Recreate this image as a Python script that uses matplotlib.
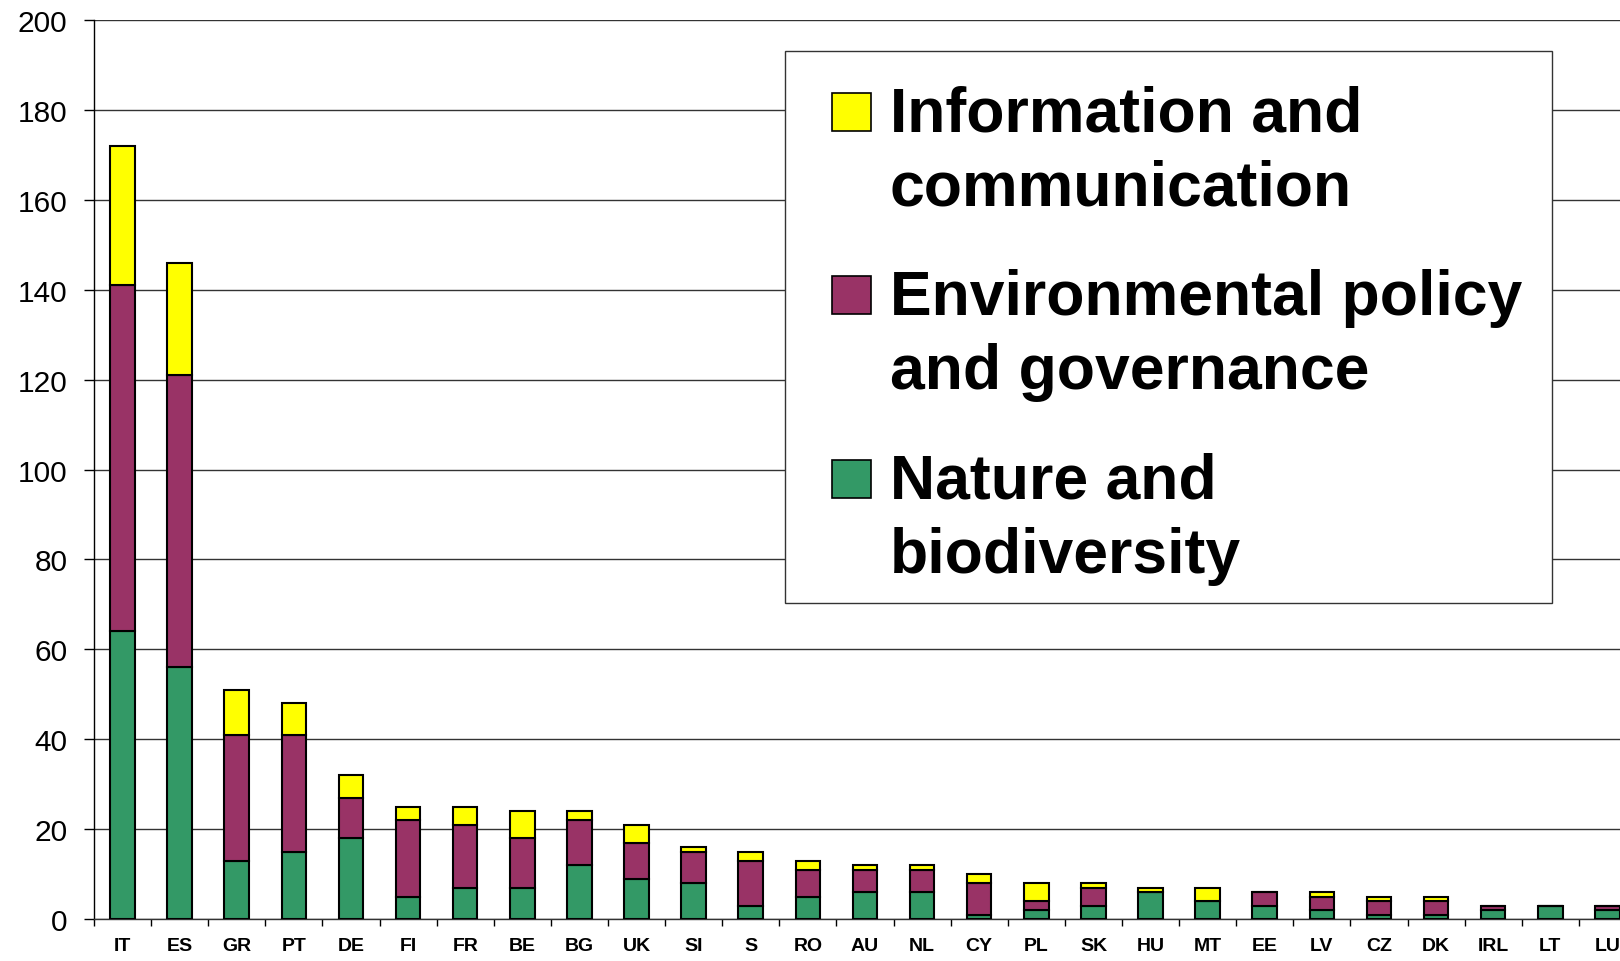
#!/usr/bin/env python3
# -*- coding: utf-8 -*-
# plot.py - barras apiladas por pais

import numpy as np
from matplotlib import pyplot as plt
from matplotlib.patches import Rectangle

# datos
countries = ['IT', 'ES', 'GR', 'PT', 'DE', 'FI', 'FR', 'BE', 'BG', 'UK',
             'SI', 'S', 'RO', 'AU', 'NL', 'CY', 'PL', 'SK', 'HU', 'MT',
             'EE', 'LV', 'CZ', 'DK', 'IRL', 'LT', 'LU']
nature = [64, 56, 13, 15, 18, 5, 7, 7, 12, 9, 8, 3, 5, 6, 6, 1, 2, 3, 6, 4,
          3, 2, 1, 1, 2, 3, 2]
policy = [77, 65, 28, 26, 9, 17, 14, 11, 10, 8, 7, 10, 6, 5, 5, 7, 2, 4, 0, 0,
          3, 3, 3, 3, 1, 0, 1]
info = [31, 25, 10, 7, 5, 3, 4, 6, 2, 4, 1, 2, 2, 1, 1, 2, 4, 1, 1, 3,
        0, 1, 1, 1, 0, 0, 0]
series_labels = [
  ['Information and', 'communication'],
  ['Environmental policy', 'and governance'],
  ['Nature and', 'biodiversity'],
]
y_ticks = [0, 20, 40, 60, 80, 100, 120, 140, 160, 180, 200]

c_nat = '#339966'
c_pol = '#993366'
c_inf = '#FFFF00'

W, H = 1620, 962
plt.rcParams['font.family'] = ['Liberation Sans', 'DejaVu Sans']

fig = plt.figure(figsize=(W / 100, H / 100), dpi=100)
ax = fig.add_axes([94 / W, 1 - 920 / H, 1 - 94 / W, (920 - 21) / H])

x = np.arange(len(countries))
nat = np.array(nature)
pol = np.array(policy)
inf = np.array(info)
bw = 0.43
kw = dict(width=bw, edgecolor='black', linewidth=1.5, zorder=3)
ax.bar(x, nat, color=c_nat, **kw)
ax.bar(x, pol, bottom=nat, color=c_pol, **kw)
ax.bar(x, inf, bottom=nat + pol, color=c_inf, **kw)

# ejes
ax.set_yticks(y_ticks)
ax.set_yticklabels([str(v) for v in y_ticks], fontsize=21.5)
ax.tick_params(axis='y', direction='out', length=7, width=1, pad=12)
ax.yaxis.grid(True, color='#333333', linewidth=1.0, zorder=0)
ax.set_axisbelow(True)

ax.set_xticks(x)
ax.set_xticklabels(countries, fontsize=14, fontweight='bold')
ax.set_xticks(np.arange(-0.5, len(countries), 1), minor=True)
ax.tick_params(axis='x', which='major', length=0, pad=13)
ax.tick_params(axis='x', which='minor', direction='out', length=5, width=1)

# limites despues de los ticks (set_xticks los amplia)
ax.set_xlim(-0.5, 26.22)
ax.set_ylim(0, 200)

for s in ['top', 'right']:
  ax.spines[s].set_visible(False)
ax.spines['left'].set_color('black')
ax.spines['left'].set_linewidth(1.0)
ax.spines['bottom'].set_color('#333333')
ax.spines['bottom'].set_linewidth(1.0)

# leyenda manual
def fx(px):
  return px / W

def fy(py):
  return 1 - py / H

box = Rectangle((fx(785), fy(604)), fx(1552) - fx(785), fy(52) - fy(604),
                transform=fig.transFigure, facecolor='white',
                edgecolor='#333333', linewidth=1.0, zorder=10)
fig.add_artist(box)

colors = [c_inf, c_pol, c_nat]
first_base = [132, 315, 499]
for lines, col, yb in zip(series_labels, colors, first_base):
  sq = Rectangle((fx(832), fy(yb)), fx(871) - fx(832), fy(yb - 38) - fy(yb),
                 transform=fig.transFigure, facecolor=col,
                 edgecolor='black', linewidth=1.2, zorder=11)
  fig.add_artist(sq)
  for i, t in enumerate(lines):
    fig.text(fx(890), fy(yb + i * 74), t, fontsize=45, fontweight='bold',
             va='baseline', ha='left', zorder=12)

fig.savefig('out.png', dpi=100)
